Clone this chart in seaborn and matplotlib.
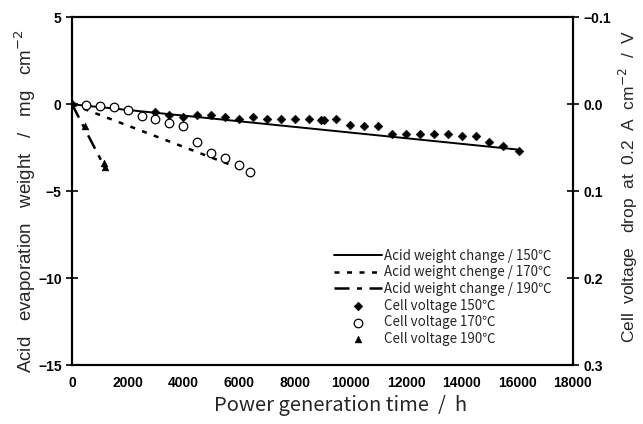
import matplotlib
matplotlib.use("Agg")
import matplotlib.pyplot as plt
import seaborn as sns
import pandas as pd

# ---- data ----
t150_line = [0, 16000]
w150_line = [0, -2.6]
t170_line = [0, 6300]
w170_line = [0, -3.85]
t190_line = [0, 1200]
w190_line = [0, -3.7]

t150_v = [0, 3000, 3500, 4000, 4500, 5000, 5500, 6000, 6500, 7000, 7500, 8000, 8500,
          8950, 9050, 9500, 10000, 10500, 11000, 11500, 12000, 12500, 13000, 13500,
          14000, 14500, 15000, 15500, 16050]
v150 = [0, 0.009, 0.0125, 0.015, 0.0125, 0.0125, 0.015, 0.0165, 0.015, 0.0173, 0.0173,
        0.0173, 0.0173, 0.018, 0.018, 0.0165, 0.024, 0.025, 0.025, 0.0346, 0.0338,
        0.0346, 0.0346, 0.0346, 0.037, 0.037, 0.0435, 0.048, 0.054]

t170_v = [500, 1000, 1500, 2000, 2500, 3000, 3500, 4000, 4500, 5000, 5500, 6000, 6400]
v170 = [0.0003, 0.002, 0.003, 0.007, 0.0135, 0.0165, 0.021, 0.025, 0.0435, 0.056,
        0.062, 0.070, 0.078]

t190_v = [450, 1150, 1200]
v190 = [0.025, 0.068, 0.072]

labels = ["Acid weight change / 150\u2103", "Acid weight chenge / 170\u2103",
          "Acid weight change / 190\u2103", "Cell voltage 150\u2103",
          "Cell voltage 170\u2103", "Cell voltage 190\u2103"]

xticks = list(range(0, 18001, 2000))
yticks_left = [5, 0, -5, -10, -15]
yticks_right = [-0.1, 0.0, 0.1, 0.2, 0.3]

# ---- plot ----
sns.set_theme(style="white")
plt.rcParams['font.family'] = ['Noto Sans CJK JP', 'DejaVu Sans']

fig = plt.figure(figsize=(6.43, 4.24), dpi=100)
ax = fig.add_axes([0.112, 0.139, 0.779, 0.82])
ax2 = ax.twinx()

sns.lineplot(x=t150_line, y=w150_line, ax=ax, color='black', lw=1.4,
             label=labels[0], legend=False)
sns.lineplot(x=t170_line, y=w170_line, ax=ax, color='black', lw=1.8,
             label=labels[1], legend=False)
sns.lineplot(x=t190_line, y=w190_line, ax=ax, color='black', lw=1.8,
             label=labels[2], legend=False)
lines = ax.get_lines()
lines[1].set_dashes((2, 3))
lines[2].set_dashes((6, 3, 2, 3))

sns.scatterplot(x=t150_v, y=v150, ax=ax2, marker='D', s=20, color='black',
                edgecolor='black', label=labels[3], legend=False)
sns.scatterplot(x=t170_v, y=v170, ax=ax2, marker='o', s=38, facecolor='white',
                edgecolor='black', linewidth=0.9, label=labels[4], legend=False)
sns.scatterplot(x=t190_v, y=v190, ax=ax2, marker='^', s=24, color='black',
                edgecolor='black', label=labels[5], legend=False)

ax.set_xlim(0, 18000)
ax.set_ylim(-15, 5)
ax2.set_ylim(0.3, -0.1)
ax.set_xticks(xticks)
ax.set_yticks(yticks_left)
ax2.set_yticks(yticks_right)
ax.set_xticklabels([str(x) for x in xticks])
ax.set_yticklabels(["5", "0", "\u22125", "\u221210", "\u221215"])
ax2.set_yticklabels(["\u22120.1", "0.0", "0.1", "0.2", "0.3"])

for a in (ax, ax2):
    for s in a.spines.values():
        s.set_color('black')
        s.set_linewidth(1.5)
    a.tick_params(direction='inout', length=8, width=1.2, colors='black')
    for lab in a.get_xticklabels() + a.get_yticklabels():
        lab.set_fontfamily('Liberation Sans')
        lab.set_fontweight('bold')
        lab.set_fontsize(10)
ax.tick_params(axis='x', pad=4)

ax.set_xlabel("Power generation time  /  h", fontsize=14.5)
ax.set_ylabel("Acid   evaporation   weight   /   mg   cm$^{-2}$", fontsize=13.5,
              fontfamily='Liberation Sans')
ax2.set_ylabel("Cell  voltage   drop  at  0.2  A  cm$^{-2}$  /  V", fontsize=12.5,
               fontfamily='Liberation Sans')
ax.xaxis.set_label_coords(0.537, -0.085)
ax.yaxis.set_label_coords(-0.068, 0.47)
ax2.yaxis.set_label_coords(1.088, 0.513)

h1, l1 = ax.get_legend_handles_labels()
h2, l2 = ax2.get_legend_handles_labels()
ax2.legend(h1 + h2, l1 + l2, loc='lower right', bbox_to_anchor=(0.958, 0.055),
           frameon=False, fontsize=9.6, handlelength=3.6, handletextpad=0.2,
           labelspacing=0.2, borderpad=0, borderaxespad=0)

fig.savefig("out.png", dpi=100)
